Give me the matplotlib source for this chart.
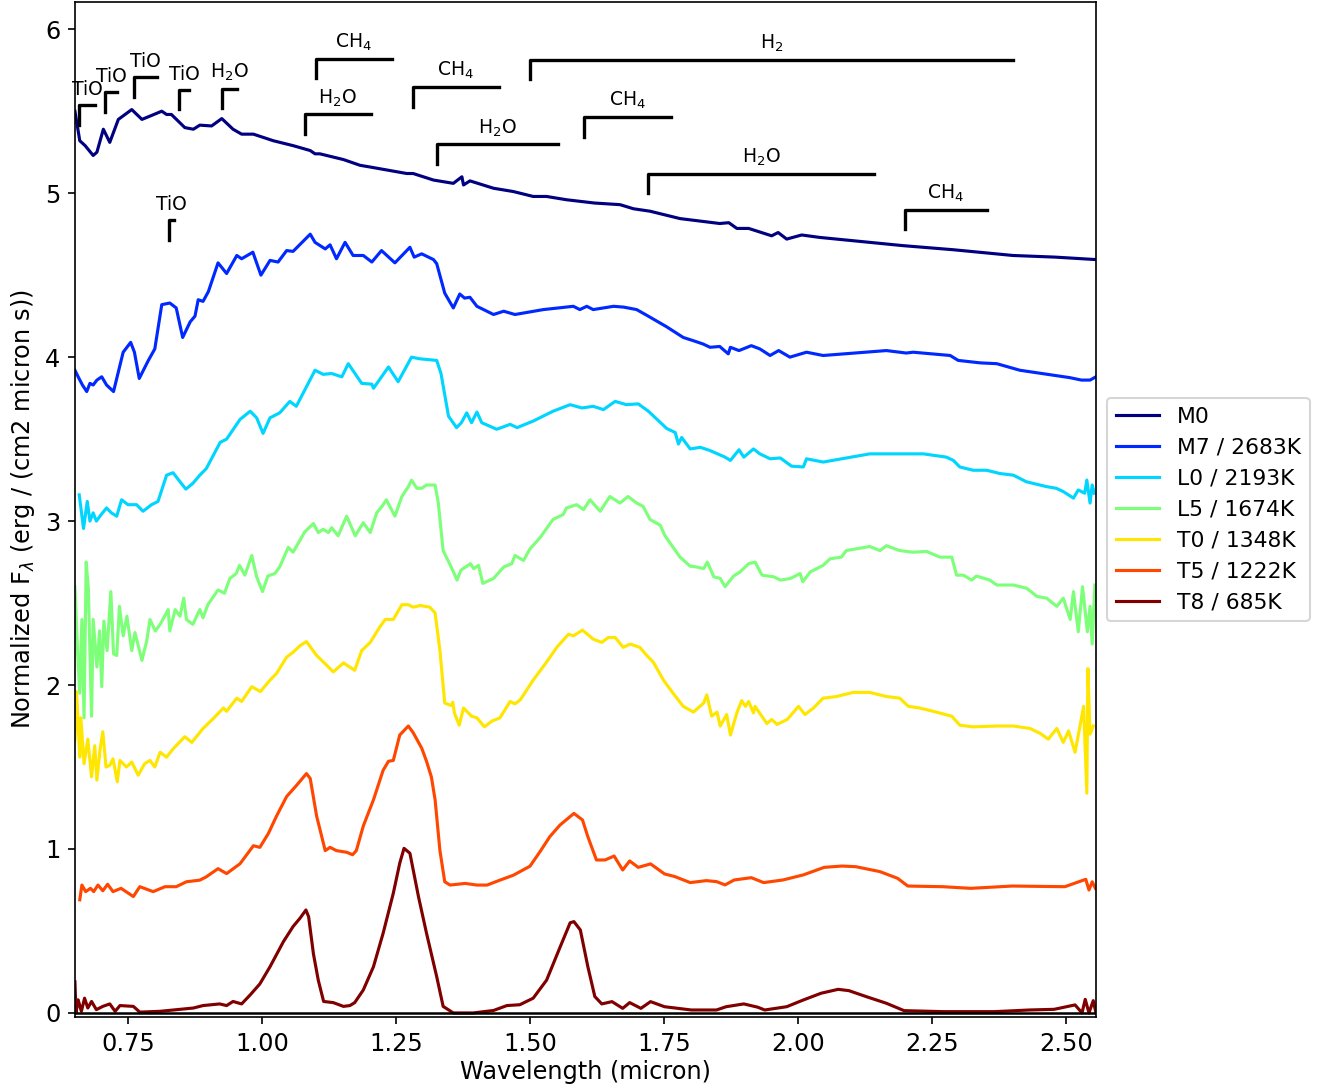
import matplotlib.pyplot as plt
import numpy as np

# spectra (wavelength in micron, normalized flux)
m0_wl = [0.651, 0.660, 0.670, 0.685, 0.692, 0.704, 0.716, 0.732, 0.757, 0.776, 0.791, 0.813, 0.822, 0.831,
         0.856, 0.872, 0.884, 0.906, 0.925, 0.946, 0.962, 0.984, 1.021, 1.058, 1.090, 1.099, 1.108, 1.152,
         1.183, 1.201, 1.270, 1.282, 1.320, 1.357, 1.373, 1.376, 1.388, 1.432, 1.469, 1.506, 1.531, 1.568,
         1.620, 1.668, 1.693, 1.724, 1.780, 1.817, 1.854, 1.871, 1.886, 1.908, 1.951, 1.963, 1.979, 2.007,
         2.041, 2.134, 2.196, 2.290, 2.401, 2.480, 2.556]
m0_flux = [5.50, 5.32, 5.29, 5.23, 5.25, 5.39, 5.31, 5.45, 5.51, 5.45, 5.47, 5.50, 5.48, 5.48,
           5.40, 5.39, 5.415, 5.41, 5.455, 5.39, 5.36, 5.36, 5.32, 5.29, 5.26, 5.24, 5.24, 5.205,
           5.17, 5.16, 5.12, 5.12, 5.08, 5.06, 5.10, 5.05, 5.075, 5.03, 5.01, 4.98, 4.98, 4.96,
           4.94, 4.93, 4.905, 4.89, 4.845, 4.83, 4.815, 4.82, 4.785, 4.785, 4.74, 4.76, 4.72, 4.745,
           4.73, 4.70, 4.68, 4.655, 4.62, 4.61, 4.595]

m7_wl = [0.651, 0.657, 0.665, 0.673, 0.679, 0.685, 0.692, 0.701, 0.710, 0.723, 0.741, 0.755, 0.762, 0.771,
         0.788, 0.800, 0.813, 0.828, 0.840, 0.852, 0.866, 0.875, 0.881, 0.890, 0.900, 0.918, 0.934, 0.953,
         0.962, 0.983, 0.998, 1.015, 1.030, 1.046, 1.058, 1.090, 1.099, 1.118, 1.127, 1.139, 1.155, 1.170,
         1.189, 1.205, 1.223, 1.248, 1.276, 1.284, 1.298, 1.320, 1.326, 1.341, 1.357, 1.369, 1.378, 1.388,
         1.401, 1.432, 1.451, 1.472, 1.525, 1.581, 1.593, 1.606, 1.618, 1.637, 1.656, 1.675, 1.699, 1.718,
         1.755, 1.786, 1.805, 1.823, 1.836, 1.854, 1.870, 1.874, 1.890, 1.913, 1.929, 1.948, 1.964, 1.985,
         2.016, 2.047, 2.165, 2.202, 2.215, 2.284, 2.299, 2.340, 2.371, 2.414, 2.476, 2.507, 2.529, 2.545,
         2.556]
m7_flux = [3.92, 3.88, 3.83, 3.79, 3.84, 3.83, 3.86, 3.88, 3.83, 3.79, 4.03, 4.09, 4.03, 3.87,
           3.98, 4.05, 4.32, 4.33, 4.30, 4.12, 4.215, 4.25, 4.35, 4.34, 4.40, 4.575, 4.51, 4.62,
           4.60, 4.64, 4.50, 4.59, 4.58, 4.65, 4.645, 4.75, 4.70, 4.66, 4.685, 4.60, 4.70, 4.62,
           4.62, 4.58, 4.65, 4.575, 4.67, 4.61, 4.63, 4.595, 4.57, 4.39, 4.30, 4.385, 4.36, 4.365,
           4.31, 4.26, 4.28, 4.26, 4.29, 4.31, 4.29, 4.31, 4.29, 4.30, 4.31, 4.305, 4.29, 4.255,
           4.185, 4.12, 4.10, 4.08, 4.06, 4.065, 4.02, 4.06, 4.04, 4.07, 4.05, 4.01, 4.04, 4.00,
           4.03, 4.01, 4.04, 4.025, 4.03, 4.01, 3.98, 3.965, 3.96, 3.92, 3.89, 3.875, 3.86, 3.86,
           3.88]

l0_wl = [0.659, 0.667, 0.674, 0.679, 0.685, 0.691, 0.700, 0.710, 0.719, 0.729, 0.738, 0.750, 0.766, 0.778,
         0.794, 0.806, 0.822, 0.834, 0.847, 0.858, 0.871, 0.884, 0.896, 0.922, 0.934, 0.959, 0.978, 0.990,
         1.002, 1.015, 1.033, 1.052, 1.064, 1.099, 1.114, 1.130, 1.149, 1.161, 1.186, 1.205, 1.208, 1.236,
         1.254, 1.279, 1.294, 1.326, 1.334, 1.348, 1.363, 1.372, 1.382, 1.391, 1.401, 1.410, 1.438, 1.463,
         1.476, 1.506, 1.543, 1.575, 1.597, 1.618, 1.637, 1.659, 1.680, 1.702, 1.721, 1.755, 1.771, 1.777,
         1.783, 1.799, 1.818, 1.836, 1.864, 1.874, 1.890, 1.899, 1.917, 1.929, 1.948, 1.967, 1.988, 2.010,
         2.016, 2.047, 2.134, 2.196, 2.234, 2.277, 2.290, 2.302, 2.327, 2.352, 2.377, 2.402, 2.426, 2.464,
         2.482, 2.495, 2.514, 2.523, 2.535, 2.539, 2.545, 2.549, 2.553]
l0_flux = [3.16, 2.955, 3.12, 3.00, 3.05, 3.00, 3.04, 3.08, 3.05, 3.03, 3.13, 3.10, 3.10, 3.06,
           3.10, 3.12, 3.28, 3.295, 3.24, 3.195, 3.23, 3.28, 3.32, 3.48, 3.50, 3.62, 3.67, 3.63,
           3.535, 3.63, 3.66, 3.73, 3.70, 3.92, 3.895, 3.90, 3.88, 3.96, 3.84, 3.835, 3.81, 3.94,
           3.85, 4.00, 3.99, 3.98, 3.90, 3.64, 3.57, 3.60, 3.66, 3.60, 3.665, 3.60, 3.56, 3.59,
           3.57, 3.61, 3.67, 3.71, 3.69, 3.70, 3.68, 3.73, 3.71, 3.715, 3.67, 3.565, 3.54, 3.47,
           3.51, 3.44, 3.45, 3.43, 3.39, 3.37, 3.435, 3.39, 3.44, 3.41, 3.38, 3.385, 3.335, 3.33,
           3.38, 3.36, 3.41, 3.41, 3.41, 3.39, 3.37, 3.33, 3.31, 3.31, 3.29, 3.28, 3.24, 3.21,
           3.20, 3.18, 3.14, 3.19, 3.17, 3.25, 3.11, 3.22, 3.17]

l5_wl = [0.651, 0.656, 0.660, 0.664, 0.668, 0.672, 0.676, 0.682, 0.685, 0.692, 0.697, 0.701, 0.705, 0.711,
         0.718, 0.723, 0.729, 0.734, 0.741, 0.748, 0.757, 0.763, 0.776, 0.785, 0.791, 0.801, 0.810, 0.825,
         0.828, 0.838, 0.847, 0.854, 0.859, 0.871, 0.884, 0.890, 0.899, 0.918, 0.930, 0.940, 0.952, 0.958,
         0.968, 0.981, 0.990, 1.001, 1.011, 1.024, 1.033, 1.049, 1.058, 1.080, 1.096, 1.105, 1.114, 1.124,
         1.130, 1.142, 1.158, 1.174, 1.189, 1.202, 1.214, 1.224, 1.232, 1.248, 1.261, 1.273, 1.279, 1.289,
         1.298, 1.307, 1.323, 1.329, 1.338, 1.353, 1.364, 1.371, 1.389, 1.395, 1.404, 1.412, 1.432, 1.451,
         1.466, 1.472, 1.488, 1.500, 1.519, 1.543, 1.562, 1.568, 1.587, 1.600, 1.612, 1.631, 1.649, 1.668,
         1.683, 1.699, 1.711, 1.724, 1.743, 1.752, 1.780, 1.799, 1.811, 1.824, 1.831, 1.843, 1.855, 1.864,
         1.880, 1.892, 1.908, 1.920, 1.933, 1.955, 1.967, 1.986, 2.004, 2.009, 2.023, 2.047, 2.060, 2.081,
         2.090, 2.134, 2.153, 2.165, 2.190, 2.215, 2.240, 2.265, 2.287, 2.296, 2.309, 2.324, 2.333, 2.358,
         2.371, 2.402, 2.427, 2.446, 2.464, 2.483, 2.495, 2.508, 2.514, 2.523, 2.531, 2.540, 2.545, 2.549,
         2.554]
l5_flux = [2.60, 2.20, 1.95, 2.40, 1.80, 2.75, 2.59, 1.81, 2.40, 2.11, 2.33, 1.99, 2.39, 2.21,
           2.57, 2.19, 2.18, 2.48, 2.30, 2.42, 2.21, 2.32, 2.15, 2.27, 2.40, 2.33, 2.37, 2.46,
           2.33, 2.46, 2.42, 2.53, 2.40, 2.37, 2.46, 2.41, 2.49, 2.58, 2.56, 2.65, 2.68, 2.73,
           2.67, 2.79, 2.66, 2.57, 2.665, 2.68, 2.72, 2.84, 2.81, 2.935, 2.985, 2.93, 2.95, 2.93,
           2.96, 2.91, 3.03, 2.91, 2.99, 2.93, 3.05, 3.09, 3.13, 3.03, 3.15, 3.21, 3.25, 3.20,
           3.20, 3.22, 3.22, 3.11, 2.82, 2.72, 2.64, 2.70, 2.74, 2.71, 2.73, 2.62, 2.65, 2.72,
           2.74, 2.79, 2.76, 2.83, 2.90, 3.01, 3.04, 3.08, 3.10, 3.07, 3.13, 3.06, 3.15, 3.11,
           3.15, 3.11, 3.09, 3.01, 2.975, 2.91, 2.78, 2.725, 2.72, 2.71, 2.75, 2.66, 2.65, 2.60,
           2.665, 2.69, 2.74, 2.75, 2.67, 2.66, 2.64, 2.65, 2.68, 2.63, 2.69, 2.73, 2.77, 2.78,
           2.82, 2.845, 2.82, 2.85, 2.82, 2.81, 2.815, 2.78, 2.78, 2.67, 2.67, 2.64, 2.665, 2.64,
           2.61, 2.61, 2.59, 2.54, 2.53, 2.48, 2.53, 2.40, 2.57, 2.325, 2.60, 2.325, 2.48, 2.25,
           2.61]

t0_wl = [0.651, 0.654, 0.660, 0.662, 0.668, 0.675, 0.682, 0.688, 0.692, 0.698, 0.703, 0.709, 0.716, 0.722,
         0.730, 0.735, 0.747, 0.757, 0.769, 0.781, 0.791, 0.800, 0.810, 0.822, 0.834, 0.856, 0.869, 0.890,
         0.909, 0.928, 0.934, 0.953, 0.962, 0.981, 0.997, 1.015, 1.027, 1.046, 1.058, 1.071, 1.083, 1.102,
         1.121, 1.133, 1.152, 1.173, 1.186, 1.202, 1.220, 1.230, 1.245, 1.261, 1.273, 1.282, 1.295, 1.313,
         1.323, 1.332, 1.341, 1.353, 1.356, 1.359, 1.368, 1.376, 1.385, 1.391, 1.401, 1.415, 1.429, 1.444,
         1.463, 1.472, 1.482, 1.506, 1.531, 1.550, 1.572, 1.581, 1.598, 1.618, 1.634, 1.646, 1.659, 1.674,
         1.687, 1.705, 1.718, 1.730, 1.749, 1.767, 1.786, 1.805, 1.824, 1.830, 1.839, 1.849, 1.855, 1.867,
         1.874, 1.886, 1.895, 1.902, 1.908, 1.917, 1.920, 1.942, 1.951, 1.961, 1.980, 2.001, 2.013, 2.029,
         2.047, 2.072, 2.103, 2.134, 2.165, 2.190, 2.206, 2.227, 2.258, 2.287, 2.302, 2.327, 2.371, 2.402,
         2.433, 2.452, 2.467, 2.483, 2.495, 2.505, 2.517, 2.526, 2.533, 2.539, 2.541, 2.545, 2.551]
t0_flux = [1.665, 1.96, 1.56, 1.80, 1.52, 1.67, 1.44, 1.63, 1.42, 1.61, 1.715, 1.50, 1.51, 1.55,
           1.41, 1.54, 1.50, 1.53, 1.45, 1.52, 1.54, 1.50, 1.59, 1.56, 1.61, 1.685, 1.65, 1.735,
           1.795, 1.86, 1.84, 1.92, 1.90, 1.99, 1.96, 2.03, 2.07, 2.17, 2.20, 2.24, 2.265, 2.18,
           2.12, 2.08, 2.135, 2.09, 2.21, 2.26, 2.355, 2.40, 2.40, 2.49, 2.49, 2.475, 2.485, 2.475,
           2.44, 2.21, 1.89, 1.875, 1.895, 1.83, 1.755, 1.86, 1.83, 1.81, 1.80, 1.745, 1.78, 1.80,
           1.90, 1.885, 1.91, 2.03, 2.14, 2.23, 2.31, 2.30, 2.335, 2.28, 2.26, 2.29, 2.29, 2.23,
           2.25, 2.23, 2.18, 2.14, 2.03, 1.95, 1.87, 1.835, 1.89, 1.94, 1.81, 1.835, 1.75, 1.82,
           1.695, 1.83, 1.905, 1.87, 1.90, 1.83, 1.87, 1.765, 1.79, 1.76, 1.79, 1.87, 1.82, 1.86,
           1.92, 1.93, 1.955, 1.955, 1.93, 1.92, 1.87, 1.86, 1.835, 1.81, 1.755, 1.745, 1.75, 1.75,
           1.735, 1.705, 1.67, 1.735, 1.65, 1.72, 1.59, 1.745, 1.87, 1.34, 2.10, 1.70, 1.75]

t5_wl = [0.660, 0.664, 0.671, 0.680, 0.686, 0.694, 0.703, 0.712, 0.722, 0.737, 0.760, 0.772, 0.797, 0.819,
         0.840, 0.859, 0.884, 0.896, 0.918, 0.934, 0.959, 0.984, 0.996, 1.012, 1.027, 1.046, 1.065, 1.083,
         1.090, 1.102, 1.118, 1.127, 1.139, 1.158, 1.169, 1.176, 1.189, 1.208, 1.226, 1.236, 1.245, 1.257,
         1.273, 1.282, 1.298, 1.307, 1.316, 1.323, 1.332, 1.341, 1.351, 1.379, 1.401, 1.420, 1.444, 1.469,
         1.500, 1.519, 1.537, 1.556, 1.582, 1.598, 1.608, 1.624, 1.640, 1.657, 1.673, 1.686, 1.702, 1.725,
         1.751, 1.770, 1.799, 1.829, 1.848, 1.864, 1.881, 1.913, 1.936, 1.972, 2.010, 2.049, 2.082, 2.108,
         2.153, 2.186, 2.205, 2.270, 2.322, 2.400, 2.498, 2.537, 2.543, 2.549, 2.555]
t5_flux = [0.69, 0.78, 0.74, 0.76, 0.74, 0.78, 0.745, 0.785, 0.74, 0.76, 0.71, 0.77, 0.74, 0.77,
           0.77, 0.80, 0.81, 0.83, 0.88, 0.85, 0.91, 1.02, 1.01, 1.095, 1.20, 1.32, 1.39, 1.46,
           1.43, 1.20, 0.99, 1.01, 0.99, 0.98, 0.965, 0.99, 1.14, 1.30, 1.48, 1.535, 1.54, 1.695,
           1.75, 1.71, 1.615, 1.535, 1.44, 1.30, 0.99, 0.80, 0.78, 0.79, 0.78, 0.78, 0.81, 0.84,
           0.895, 0.985, 1.075, 1.146, 1.217, 1.177, 1.075, 0.933, 0.933, 0.957, 0.872, 0.927, 0.888, 0.909,
           0.848, 0.832, 0.795, 0.807, 0.801, 0.781, 0.811, 0.825, 0.795, 0.811, 0.842, 0.888, 0.896, 0.892,
           0.862, 0.821, 0.774, 0.770, 0.760, 0.774, 0.770, 0.815, 0.750, 0.80, 0.76]

t8_wl = [0.651, 0.653, 0.657, 0.663, 0.669, 0.675, 0.682, 0.691, 0.703, 0.716, 0.726, 0.735, 0.760, 0.772,
         0.810, 0.872, 0.890, 0.921, 0.934, 0.946, 0.962, 0.978, 0.996, 1.015, 1.040, 1.058, 1.071, 1.082,
         1.087, 1.096, 1.105, 1.115, 1.133, 1.152, 1.164, 1.173, 1.189, 1.208, 1.226, 1.245, 1.257, 1.265,
         1.276, 1.292, 1.307, 1.326, 1.338, 1.357, 1.394, 1.432, 1.457, 1.481, 1.506, 1.531, 1.556, 1.575,
         1.582, 1.594, 1.608, 1.621, 1.634, 1.653, 1.673, 1.686, 1.707, 1.725, 1.751, 1.801, 1.848, 1.866,
         1.899, 1.925, 1.938, 1.979, 2.010, 2.043, 2.075, 2.095, 2.127, 2.165, 2.198, 2.270, 2.367, 2.432,
         2.478, 2.517, 2.530, 2.536, 2.543, 2.551, 2.556]
t8_flux = [0.19, 0.0, 0.08, 0.01, 0.09, 0.03, 0.07, 0.02, 0.04, 0.055, 0.01, 0.045, 0.04, 0.005,
           0.01, 0.03, 0.045, 0.055, 0.045, 0.07, 0.055, 0.11, 0.177, 0.282, 0.435, 0.527, 0.578, 0.628,
           0.587, 0.36, 0.20, 0.07, 0.063, 0.04, 0.045, 0.063, 0.14, 0.282, 0.486, 0.73, 0.913, 1.004,
           0.974, 0.709, 0.486, 0.221, 0.04, 0.0, 0.0, 0.015, 0.045, 0.05, 0.09, 0.20, 0.40, 0.55,
           0.557, 0.506, 0.282, 0.10, 0.055, 0.069, 0.028, 0.063, 0.028, 0.069, 0.038, 0.018, 0.018, 0.038,
           0.055, 0.035, 0.018, 0.038, 0.079, 0.12, 0.144, 0.136, 0.10, 0.059, 0.014, 0.008, 0.008, 0.018,
           0.022, 0.049, 0.0, 0.083, 0.0, 0.075, 0.0]

spec_wl = [m0_wl, m7_wl, l0_wl, l5_wl, t0_wl, t5_wl, t8_wl]
spec_flux = [m0_flux, m7_flux, l0_flux, l5_flux, t0_flux, t5_flux, t8_flux]
spec_names = ['M0', 'M7 / 2683K', 'L0 / 2193K', 'L5 / 1674K', 'T0 / 1348K', 'T5 / 1222K', 'T8 / 685K']

# absorption band markers: label, start, end, height
band_labels = ['TiO', 'TiO', 'TiO', 'TiO', 'H$_2$O', 'TiO', 'CH$_4$', 'H$_2$O', 'CH$_4$', 'H$_2$',
               'H$_2$O', 'CH$_4$', 'H$_2$O', 'CH$_4$']
band_start = [0.659, 0.708, 0.761, 0.846, 0.926, 0.826, 1.101, 1.080, 1.281, 1.500,
              1.326, 1.600, 1.721, 2.200]
band_end = [0.688, 0.730, 0.804, 0.864, 0.953, 0.835, 1.242, 1.203, 1.442, 2.402,
            1.553, 1.763, 2.142, 2.352]
band_y = [5.537, 5.618, 5.709, 5.632, 5.638, 4.835, 5.821, 5.480, 5.648, 5.815,
          5.297, 5.465, 5.120, 4.900]

fig = plt.figure(figsize=(1331 / 150, 1086 / 150), dpi=150)
ax = fig.add_axes([0.0563, 0.0635, 0.7671, 0.9345])

colors = plt.cm.jet(np.linspace(0, 1, len(spec_names)))
for wl, flux, name, c in zip(spec_wl, spec_flux, spec_names, colors):
    ax.plot(wl, flux, color=c, lw=1.5, label=name)

ax.axhline(0, color='k', lw=1.2)

for lab, x1, x2, y in zip(band_labels, band_start, band_end, band_y):
    ax.plot([x1, x1, x2], [y - 0.12, y, y], color='k', lw=1.6)
    ax.text((x1 + x2) / 2, y + 0.035, lab, ha='center', va='bottom', fontsize=9)

ax.set_xlim(0.651, 2.556)
ax.set_ylim(-0.025, 6.165)
ax.tick_params(labelsize=11.5)
ax.set_xlabel('Wavelength (micron)', fontsize=11.5, labelpad=2)
ax.set_ylabel(r'Normalized F$_\lambda$ (erg / (cm2 micron s))', fontsize=11.5, labelpad=4)
ax.legend(loc='center left', bbox_to_anchor=(1.0, 0.5), fontsize=10.5)

fig.savefig('out.png', dpi=150)
